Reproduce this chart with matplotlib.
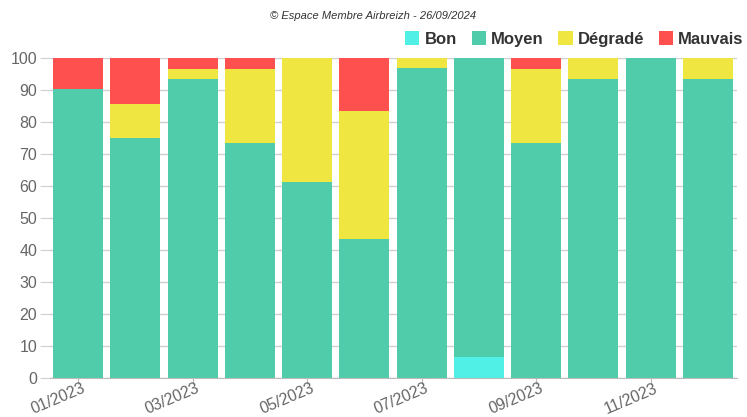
import matplotlib
matplotlib.use("Agg")
import matplotlib.pyplot as plt
import matplotlib.transforms as mtransforms
from matplotlib.patches import Patch
import numpy as np

plt.rcParams['font.family'] = ['Liberation Sans', 'DejaVu Sans']

months = ["01/2023", "02/2023", "03/2023", "04/2023", "05/2023", "06/2023",
          "07/2023", "08/2023", "09/2023", "10/2023", "11/2023", "12/2023"]
bon = [0, 0, 0, 0, 0, 0, 0, 6.5, 0, 0, 0, 0]
moyen = [90.3, 75.0, 93.5, 73.3, 61.3, 43.3, 96.8, 93.5, 73.3, 93.5, 100.0, 93.5]
degrade = [0, 10.7, 3.2, 23.3, 38.7, 40.0, 3.2, 0, 23.3, 6.5, 0, 6.5]
mauvais = [9.7, 14.3, 3.3, 3.4, 0, 16.7, 0, 0, 3.4, 0, 0, 0]

series = [("Bon", bon, "#50F0E6"), ("Moyen", moyen, "#50CCAA"),
          ("Dégradé", degrade, "#F0E641"), ("Mauvais", mauvais, "#FF5050")]

fig = plt.figure(figsize=(7.47, 4.17), dpi=100)
ax = fig.add_axes([49.5/747, 1-378/417, 687/747, 320/417])

x = np.arange(len(months))
bottom = np.zeros(len(months))
for name, vals, col in series:
    v = np.array(vals)
    ax.bar(x, v, bottom=bottom, width=0.873, color=col, label=name, zorder=2)
    bottom += v

ax.set_xlim(-0.5, len(months) - 0.5)
ax.set_ylim(0, 100)
ax.set_yticks(range(0, 101, 10))
ax.grid(axis='y', color='#d0d0d0', linewidth=1, zorder=0)
for s in ['top', 'right', 'left']:
    ax.spines[s].set_visible(False)
ax.spines['bottom'].set_color('#bbbbbb')
ax.tick_params(axis='y', length=7, color='#d0d0d0', labelsize=11.5, labelcolor='#666666', pad=2)
ax.tick_params(axis='x', length=4, color='#bbbbbb', labelsize=11.5, labelcolor='#666666', pad=-2)
ax.set_xticks(x[::2])
ax.set_xticklabels(months[::2], rotation=23, ha='right', rotation_mode='anchor')
offset = mtransforms.ScaledTranslation(3/100, 0, fig.dpi_scale_trans)
for lbl in ax.get_xticklabels():
    lbl.set_transform(lbl.get_transform() + offset)

fig.text(0.5, 1-16/417, "© Espace Membre Airbreizh - 26/09/2024", ha='center', va='center',
         fontsize=8, style='italic', color='#333333')

handles = [Patch(facecolor=c, edgecolor='none', label=n) for n, _, c in series]
leg = fig.legend(handles=handles, loc='center right', bbox_to_anchor=(1.0, 1-39/417), ncol=4,
                 frameon=False, handlelength=0.85, handleheight=0.85, handletextpad=0.3,
                 columnspacing=0.9, prop={'weight': 'bold', 'size': 12}, borderaxespad=0.0,
                 borderpad=0.2)
for t in leg.get_texts():
    t.set_color('#333333')

fig.savefig("out.png", dpi=100)
